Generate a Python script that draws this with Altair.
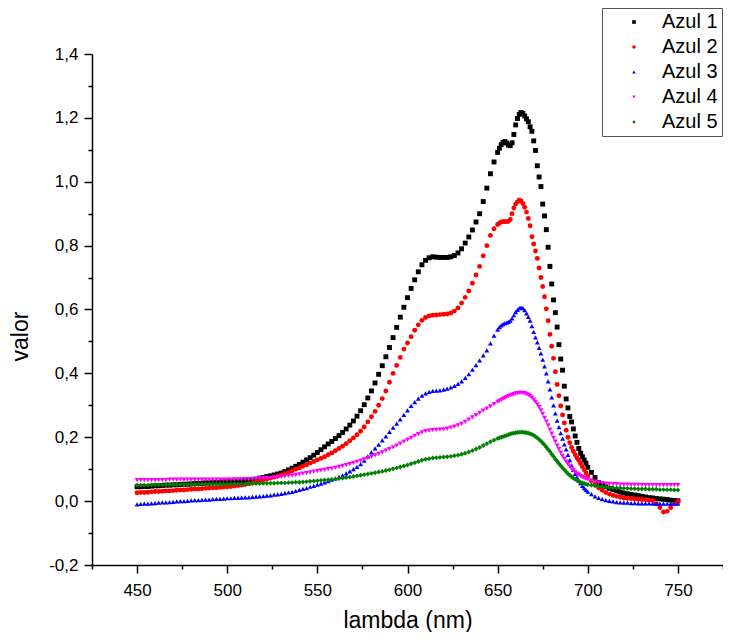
import altair as alt
import pandas as pd

# wavelength sampling (nm)
lam = list(range(450, 651, 2)) + list(range(651, 701)) + list(range(702, 751, 2))

series_names = ["Azul 1", "Azul 2", "Azul 3", "Azul 4", "Azul 5"]
colors = ["#000000", "#ff0000", "#0000ff", "#ff00ff", "#008000"]
shapes = ["square", "circle", "triangle-up", "triangle-down", "diamond"]

x_ticks = list(range(425, 776, 25))
y_ticks = [-0.2, -0.1, 0.0, 0.1, 0.2, 0.3, 0.4, 0.5, 0.6, 0.7, 0.8, 0.9, 1.0, 1.1, 1.2, 1.3, 1.4]

azul1 = [
    .045, .045, .046, .046, .047, .048, .048, .049, .050, .050,
    .051, .051, .052, .053, .053, .054, .055, .055, .056, .057,
    .057, .058, .058, .059, .060, .060, .061, .062, .062, .063,
    .064, .065, .067, .069, .072, .074, .077, .079, .082, .085,
    .088, .093, .098, .103, .109, .115, .122, .129, .136, .144,
    .152, .161, .170, .179, .187, .196, .205, .215, .226, .238,
    .251, .266, .283, .302, .323, .345, .370, .397, .424, .452,
    .481, .512, .544, .576, .607, .637, .666, .693, .718, .740,
    .754, .762, .765, .764, .763, .763, .763, .765, .769, .777,
    .790, .808, .827, .849, .874, .900, .938, .980, 1.025, 1.062,
    1.092,
    1.105, 1.116, 1.123, 1.126, 1.121, 1.115, 1.113, 1.122, 1.148, 1.178,
    1.198, 1.211, 1.217, 1.214, 1.206, 1.197, 1.188, 1.172, 1.158, 1.128,
    1.098, 1.050, 1.015, 0.985, 0.930, 0.893, 0.850, 0.795, 0.735, 0.680,
    0.630, 0.590, 0.545, 0.490, 0.445, 0.410, 0.360, 0.320, 0.292, 0.265,
    0.248, 0.226, 0.204, 0.184, 0.165, 0.150, 0.139, 0.129, 0.119, 0.106,
    .090, .074, .058, .050, .045, .040, .036, .032, .028, .025,
    .023, .021, .019, .017, .015, .013, .011, .010, .008, .007,
    .006, .005, .003, .002, .001,
]

azul2 = [
    .026, .027, .027, .028, .029, .030, .030, .031, .032, .032,
    .033, .034, .035, .035, .036, .037, .038, .038, .039, .040,
    .041, .042, .042, .043, .044, .045, .046, .047, .049, .050,
    .052, .054, .057, .060, .063, .066, .069, .072, .075, .078,
    .082, .086, .090, .095, .100, .104, .109, .114, .119, .124,
    .129, .134, .139, .145, .151, .158, .165, .172, .180, .189,
    .198, .208, .219, .232, .248, .264, .281, .300, .321, .345,
    .372, .400, .425, .450, .476, .495, .515, .535, .552, .566,
    .575, .580, .582, .583, .584, .585, .586, .589, .595, .605,
    .620, .638, .658, .682, .708, .735, .768, .800, .832, .853,
    .866,
    .870, .874, .875, .875, .875, .876, .882, .900, .918, .930,
    .937, .942, .940, .932, .920, .905, .885, .862, .828, .805,
    .783, .760, .730, .700, .672, .640, .602, .565, .522, .485,
    .447, .405, .365, .330, .298, .270, .245, .222, .200, .183,
    .168, .156, .145, .136, .128, .118, .108, .098, .088, .078,
    .063, .052, .042, .034, .027, .022, .018, .015, .012, .010,
    .009, .008, .007, .006, .005, .004, .003, .002, -.008, -.020,
    -.034, -.032, -.020, -.008, -.001,
]

azul3 = [
    -.010, -.009, -.008, -.008, -.007, -.006, -.005, -.004, -.004, -.003,
    -.002, -.001, .000, .000, .001, .002, .003, .003, .004, .005,
    .005, .006, .007, .007, .008, .009, .009, .010, .010, .011,
    .012, .012, .013, .014, .015, .016, .017, .018, .020, .021,
    .023, .025, .027, .029, .032, .035, .038, .041, .045, .048,
    .052, .055, .059, .063, .067, .071, .076, .081, .087, .093,
    .100, .107, .116, .127, .140, .153, .165, .177, .190, .203,
    .217, .230, .243, .256, .270, .284, .298, .310, .321, .330,
    .337, .342, .345, .346, .347, .349, .352, .356, .361, .367,
    .375, .386, .398, .412, .426, .441, .456, .472, .494, .518,
    .537,
    .545, .550, .554, .557, .559, .561, .565, .572, .582, .592,
    .599, .604, .606, .604, .598, .588, .577, .565, .548, .530,
    .513, .497, .480, .463, .443, .422, .400, .375, .350, .325,
    .300, .275, .252, .232, .213, .196, .178, .162, .145, .128,
    .112, .098, .085, .074, .064, .056, .048, .041, .035, .030,
    .022, .015, .010, .006, .003, .001, -.001, -.003, -.004, -.005,
    -.005, -.006, -.006, -.007, -.007, -.007, -.007, -.008, -.008, -.008,
    -.008, -.008, -.008, -.008, -.008,
]

azul4 = [
    .066, .066, .066, .066, .066, .066, .066, .066, .066, .067,
    .067, .067, .067, .067, .067, .067, .067, .067, .067, .067,
    .067, .067, .067, .067, .067, .067, .067, .068, .068, .068,
    .069, .069, .070, .070, .071, .072, .072, .073, .074, .075,
    .076, .077, .079, .080, .082, .084, .086, .088, .090, .092,
    .094, .096, .098, .100, .102, .104, .107, .110, .113, .116,
    .120, .123, .127, .131, .135, .139, .143, .148, .153, .158,
    .163, .168, .174, .180, .186, .192, .198, .204, .210, .215,
    .219, .221, .222, .223, .224, .225, .227, .230, .233, .237,
    .242, .248, .255, .262, .269, .276, .283, .290, .297, .304,
    .311,
    .314, .317, .320, .323, .326, .329, .331, .333, .335, .337,
    .338, .339, .339, .339, .338, .336, .333, .329, .324, .318,
    .311, .303, .294, .284, .273, .261, .249, .237, .224, .211,
    .198, .186, .174, .163, .152, .142, .132, .124, .116, .109,
    .102, .096, .091, .086, .082, .078, .075, .072, .070, .068,
    .064, .061, .058, .056, .055, .054, .053, .053, .052, .052,
    .052, .051, .051, .051, .051, .050, .050, .050, .050, .050,
    .050, .050, .050, .050, .050,
]

azul5 = [
    .050, .050, .050, .050, .051, .051, .051, .051, .051, .051,
    .052, .052, .052, .052, .052, .052, .052, .053, .053, .053,
    .053, .053, .053, .053, .053, .053, .054, .054, .054, .054,
    .054, .055, .055, .055, .055, .056, .056, .056, .056, .057,
    .057, .057, .058, .058, .059, .059, .060, .061, .062, .063,
    .064, .065, .066, .067, .068, .069, .071, .072, .074, .075,
    .077, .079, .081, .083, .085, .087, .089, .091, .093, .096,
    .098, .101, .104, .107, .110, .113, .117, .120, .124, .128,
    .131, .133, .135, .136, .137, .138, .139, .140, .142, .144,
    .147, .150, .154, .158, .163, .168, .174, .180, .186, .191,
    .196,
    .198, .200, .202, .204, .206, .208, .210, .212, .213, .214,
    .215, .216, .216, .216, .215, .214, .213, .211, .209, .206,
    .202, .198, .193, .188, .182, .176, .169, .162, .155, .147,
    .140, .132, .125, .118, .111, .104, .098, .092, .086, .081,
    .076, .072, .068, .065, .062, .059, .057, .055, .053, .052,
    .050, .048, .046, .045, .044, .043, .042, .041, .041, .040,
    .040, .039, .039, .038, .038, .038, .037, .037, .037, .036,
    .036, .036, .036, .035, .035,
]

all_series = [azul1, azul2, azul3, azul4, azul5]
for s in all_series:
    assert len(s) == len(lam), (len(s), len(lam))

rows = []
for name, vals in zip(series_names, all_series):
    for l, v in zip(lam, vals):
        rows.append({"lam": l, "valor": v, "serie": name})
df = pd.DataFrame(rows)

FONT = "Liberation Sans"

legend = alt.Legend(
    title=None, orient="none", legendX=510, legendY=-46,
    strokeColor="#555555", fillColor="white", padding=4,
    symbolOffset=18, labelOffset=18, labelFont=FONT, labelFontSize=20,
    labelColor="#000000", rowPadding=5, symbolSize=13, symbolStrokeWidth=0,
)

x_axis = alt.Axis(
    values=x_ticks, format="d",
    labelExpr="datum.value % 50 == 0 ? datum.label : ''",
    tickSize={"condition": {"test": "datum.value % 50 == 0", "value": 8}, "value": 4},
    tickColor="#000000", tickWidth=1.5, domainColor="#000000", domainWidth=1.5,
    labelFont=FONT, labelFontSize=17, labelColor="#000000", labelPadding=9,
    labelOverlap=False, labelFlush=False, grid=False,
    title="lambda (nm)", titleFont=FONT, titleFontSize=23, titleFontWeight="normal",
    titleColor="#000000", titleX=315.5, titleY=62, titleBaseline="alphabetic",
    titleAlign="center",
)

y_axis = alt.Axis(
    values=y_ticks,
    labelExpr="abs(round(datum.value*10)) % 2 == 0 ? replace(replace(format(datum.value, '.1f'), '.', ','), '\u2212', '-') : ''",
    tickSize={"condition": {"test": "abs(round(datum.value*10)) % 2 == 0", "value": 8}, "value": 4},
    tickColor="#000000", tickWidth=1.5, domainColor="#000000", domainWidth=1.5,
    labelFont=FONT, labelFontSize=17, labelColor="#000000", labelPadding=6,
    labelOverlap=False, labelFlush=False, grid=False,
    title="valor", titleFont=FONT, titleFontSize=23, titleFontWeight="normal",
    titleColor="#000000", titleAngle=270, titleX=-65, titleY=282,
    titleBaseline="alphabetic", titleAlign="center",
)

chart = alt.Chart(df).mark_point(filled=True, size=24, opacity=1, strokeWidth=0).encode(
    x=alt.X("lam:Q", scale=alt.Scale(domain=[425, 775], nice=False, zero=False), axis=x_axis),
    y=alt.Y("valor:Q", scale=alt.Scale(domain=[-0.2, 1.4], nice=False, zero=False), axis=y_axis),
    color=alt.Color("serie:N", scale=alt.Scale(domain=series_names, range=colors), legend=legend),
    shape=alt.Shape("serie:N", scale=alt.Scale(domain=series_names, range=shapes), legend=legend),
).properties(
    width=631, height=511,
    autosize=alt.AutoSizeParams(type="none"),
    padding={"left": 84, "top": 46, "right": 0, "bottom": 67},
    background="white",
).configure_view(stroke=None)

chart.save("out.html", embed_options={"renderer": "svg", "actions": False})
